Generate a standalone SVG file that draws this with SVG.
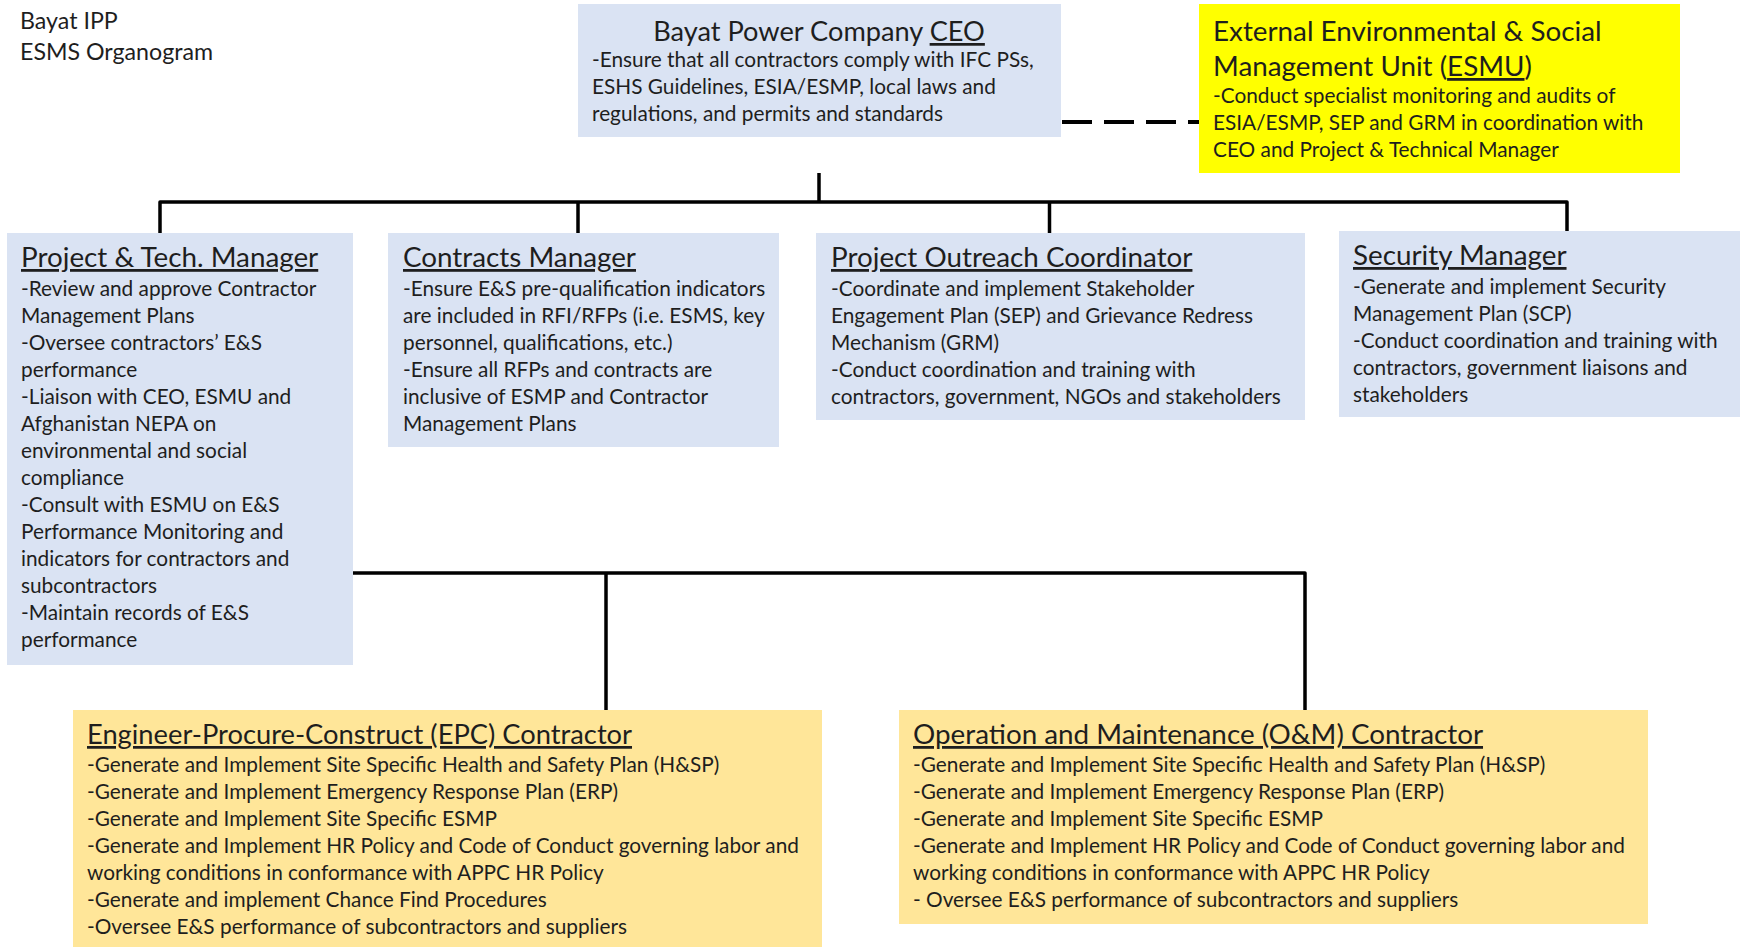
<svg xmlns="http://www.w3.org/2000/svg" width="1740" height="947" viewBox="0 0 1740 947">
<style>
text{font-family:Lato,"Liberation Sans",sans-serif;fill:#1e1e1e}
.hdr{font-size:23.2px}
.ttl{font-size:27.8px}
.b{font-size:20.8px}
.u{text-decoration:underline}
.blue{fill:#DAE3F3}
.yel{fill:#FFFF00}
.org{fill:#FFE699}
.con{fill:none;stroke:#000;stroke-width:3.5;stroke-linejoin:round}
.dash{fill:none;stroke:#000;stroke-width:4;stroke-dasharray:30 12}
</style>
<g id="header">
<text class="hdr" x="20" y="29">Bayat IPP</text>
<text class="hdr" x="20" y="60">ESMS Organogram</text>
</g>
<g id="connectors">
<path class="con" d="M819,173 V202"/>
<path class="con" d="M160,233 V202 H1567 V231"/>
<path class="con" d="M578,202 V233"/>
<path class="con" d="M1049.5,202 V233"/>
<path class="con" d="M353,573 H1305 V710"/>
<path class="con" d="M606,573 V710"/>
<path class="dash" d="M1062,122 H1199"/>
</g>
<g id="ceo">
<rect class="blue" x="578" y="4" width="483" height="133"/>
<text class="ttl" x="819" y="41" text-anchor="middle" style="font-size:27.2px">Bayat Power Company <tspan class="u">CEO</tspan></text>
<text class="b" x="592" y="67">-Ensure that all contractors comply with IFC PSs,<tspan x="592" dy="27">ESHS Guidelines, ESIA/ESMP, local laws and</tspan><tspan x="592" dy="27">regulations, and permits and standards</tspan></text>
</g>
<g id="esmu">
<rect class="yel" x="1199" y="4" width="481" height="169"/>
<text class="ttl" x="1213" y="40.5">External Environmental &amp; Social</text>
<text class="ttl" x="1213" y="76">Management Unit (<tspan class="u">ESMU</tspan>)</text>
<text class="b" x="1213" y="103">-Conduct specialist monitoring and audits of<tspan x="1213" dy="27">ESIA/ESMP, SEP and GRM in coordination with</tspan><tspan x="1213" dy="27">CEO and Project &amp; Technical Manager</tspan></text>
</g>
<g id="project-tech-manager">
<rect class="blue" x="7" y="233" width="346" height="432"/>
<text class="ttl u" x="21" y="267">Project &amp; Tech. Manager</text>
<text class="b" x="21" y="296">-Review and approve Contractor<tspan x="21" dy="27">Management Plans</tspan><tspan x="21" dy="27">-Oversee contractors’ E&amp;S</tspan><tspan x="21" dy="27">performance</tspan><tspan x="21" dy="27">-Liaison with CEO, ESMU and</tspan><tspan x="21" dy="27">Afghanistan NEPA on</tspan><tspan x="21" dy="27">environmental and social</tspan><tspan x="21" dy="27">compliance</tspan><tspan x="21" dy="27">-Consult with ESMU on E&amp;S</tspan><tspan x="21" dy="27">Performance Monitoring and</tspan><tspan x="21" dy="27">indicators for contractors and</tspan><tspan x="21" dy="27">subcontractors</tspan><tspan x="21" dy="27">-Maintain records of E&amp;S</tspan><tspan x="21" dy="27">performance</tspan></text>
</g>
<g id="contracts-manager">
<rect class="blue" x="388" y="233" width="391" height="214"/>
<text class="ttl u" x="403" y="267">Contracts Manager</text>
<text class="b" x="403" y="296">-Ensure E&amp;S pre-qualification indicators<tspan x="403" dy="27">are included in RFI/RFPs (i.e. ESMS, key</tspan><tspan x="403" dy="27">personnel, qualifications, etc.)</tspan><tspan x="403" dy="27">-Ensure all RFPs and contracts are</tspan><tspan x="403" dy="27">inclusive of ESMP and Contractor</tspan><tspan x="403" dy="27">Management Plans</tspan></text>
</g>
<g id="outreach-coordinator">
<rect class="blue" x="816" y="233" width="489" height="187"/>
<text class="ttl u" x="831" y="267">Project Outreach Coordinator</text>
<text class="b" x="831" y="296">-Coordinate and implement Stakeholder<tspan x="831" dy="27">Engagement Plan (SEP) and Grievance Redress</tspan><tspan x="831" dy="27">Mechanism (GRM)</tspan><tspan x="831" dy="27">-Conduct coordination and training with</tspan><tspan x="831" dy="27">contractors, government, NGOs and stakeholders</tspan></text>
</g>
<g id="security-manager">
<rect class="blue" x="1339" y="231" width="401" height="186"/>
<text class="ttl u" x="1353" y="265">Security Manager</text>
<text class="b" x="1353" y="294">-Generate and implement Security<tspan x="1353" dy="27">Management Plan (SCP)</tspan><tspan x="1353" dy="27">-Conduct coordination and training with</tspan><tspan x="1353" dy="27">contractors, government liaisons and</tspan><tspan x="1353" dy="27">stakeholders</tspan></text>
</g>
<g id="epc-contractor">
<rect class="org" x="73" y="710" width="749" height="237"/>
<text class="ttl u" x="87" y="744" style="font-size:27.3px">Engineer-Procure-Construct (EPC) Contractor</text>
<text class="b" x="87" y="772">-Generate and Implement Site Specific Health and Safety Plan (H&amp;SP)<tspan x="87" dy="27">-Generate and Implement Emergency Response Plan (ERP)</tspan><tspan x="87" dy="27">-Generate and Implement Site Specific ESMP</tspan><tspan x="87" dy="27">-Generate and Implement HR Policy and Code of Conduct governing labor and</tspan><tspan x="87" dy="27">working conditions in conformance with APPC HR Policy</tspan><tspan x="87" dy="27">-Generate and implement Chance Find Procedures</tspan><tspan x="87" dy="27">-Oversee E&amp;S performance of subcontractors and suppliers</tspan></text>
</g>
<g id="om-contractor">
<rect class="org" x="899" y="710" width="749" height="214"/>
<text class="ttl u" x="913" y="744">Operation and Maintenance (O&amp;M) Contractor</text>
<text class="b" x="913" y="772">-Generate and Implement Site Specific Health and Safety Plan (H&amp;SP)<tspan x="913" dy="27">-Generate and Implement Emergency Response Plan (ERP)</tspan><tspan x="913" dy="27">-Generate and Implement Site Specific ESMP</tspan><tspan x="913" dy="27">-Generate and Implement HR Policy and Code of Conduct governing labor and</tspan><tspan x="913" dy="27">working conditions in conformance with APPC HR Policy</tspan><tspan x="913" dy="27">- Oversee E&amp;S performance of subcontractors and suppliers</tspan></text>
</g>
</svg>
